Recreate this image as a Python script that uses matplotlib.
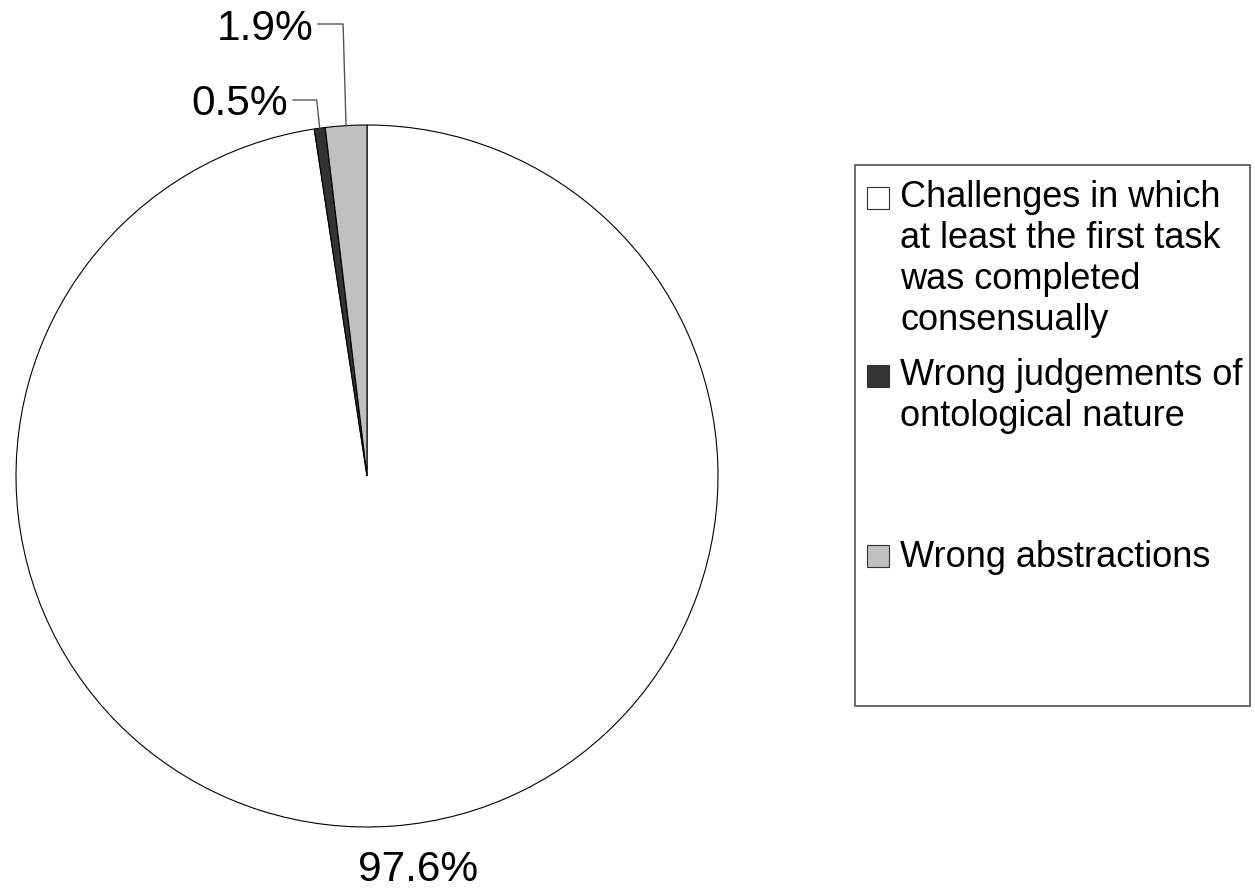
import numpy as np
import matplotlib.pyplot as plt
from matplotlib.patches import Rectangle

plt.rcParams['font.family'] = ['Liberation Sans', 'DejaVu Sans']

# share of challenges by outcome
categories = ['Challenges in which\nat least the first task\nwas completed\nconsensually',
              'Wrong judgements of\nontological nature',
              'Wrong abstractions']
shares = [97.6, 0.5, 1.9]
colors = ['#ffffff', '#333333', '#c0c0c0']

W, H = 1255, 891
fig = plt.figure(figsize=(W / 100, H / 100), dpi=100)
ax = fig.add_axes([0, 0, 1, 1])

cx, cy, r = 367, H - 476, 351
wedges, _ = ax.pie(shares, colors=colors, startangle=90, counterclock=False,
                   center=(cx, cy), radius=r, frame=True,
                   wedgeprops=dict(edgecolor='black', linewidth=0.8))
ax.set_xlim(0, W)
ax.set_ylim(0, H)
ax.set_aspect('equal')
ax.axis('off')


def rim_point(w):
    mid = np.deg2rad((w.theta1 + w.theta2) / 2)
    return cx + r * np.cos(mid), cy + r * np.sin(mid)


# big slice label sits below the pie
ax.text(418, H - 881, f'{shares[0]}%', fontsize=30.5, ha='center', va='baseline')

# small slices get leader lines: up from the rim, then across to the label
label_y = [H - 100, H - 24]
label_baseline = [H - 115, H - 40]
label_right = [288, 313]
for w, s, ly, lb, lr in zip(wedges[1:], shares[1:], label_y, label_baseline, label_right):
    px, py = rim_point(w)
    ex = px - 3
    ax.plot([px, ex, lr + 5], [py, ly, ly], color='#555555', lw=1)
    ax.text(lr, lb, f'{s}%', fontsize=30.5, ha='right', va='baseline')

# legend box
ax.add_patch(Rectangle((855, H - 706), 395, 541, facecolor='white',
                       edgecolor='#555555', lw=1.2))
entry_top = [187, 365, 545]
first_baseline = [207, 385, 567]
line_step = 41
for lab, col, top, base in zip(categories, colors, entry_top, first_baseline):
    ax.add_patch(Rectangle((867, H - top - 22), 22, 22, facecolor=col,
                           edgecolor='#333333', lw=0.8))
    for i, line in enumerate(lab.split('\n')):
        ax.text(900, H - (base + i * line_step), line, fontsize=26,
                ha='left', va='baseline')

fig.savefig('out.png', dpi=100)
